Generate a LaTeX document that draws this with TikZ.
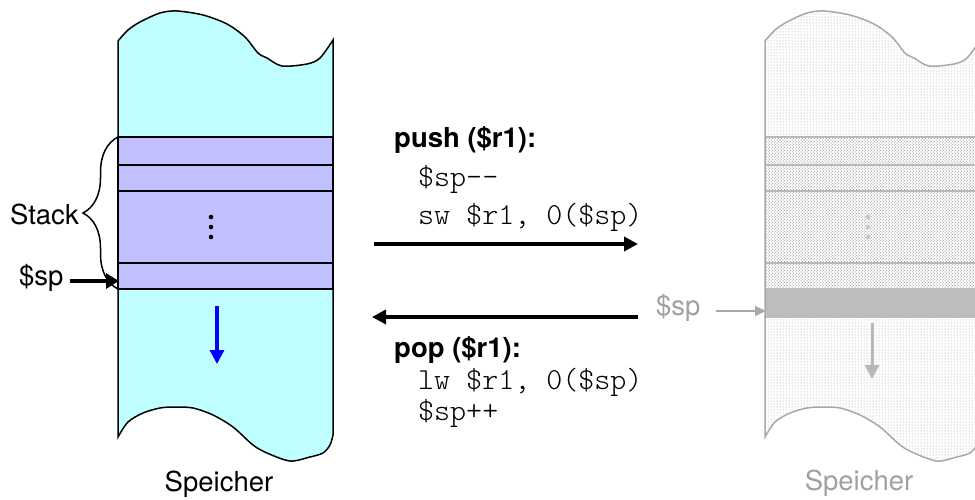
\documentclass[tikz,border=0pt]{standalone}
\usepackage{fontspec}
\setmainfont{TeX Gyre Heros}
\usetikzlibrary{arrows.meta,decorations.pathreplacing,patterns}
\definecolor{memcyan}{HTML}{C0FFFF}
\definecolor{stackblue}{HTML}{C0C0FF}
\definecolor{fadetext}{HTML}{A0A0A0}
\definecolor{fadeline}{HTML}{B8B8B8}
\definecolor{fadeedge}{HTML}{A8A8A8}
\definecolor{fadeband}{HTML}{BDBDBD}

% outline of a memory block with torn top and bottom edges
\def\memshape{plot[smooth,tension=0.5] coordinates {(118,41) (128,30) (140,22) (160,13) (177,11) (203,15) (227,24) (245,37) (258,53) (267,58) (282,66) (307,64) (320,58) (333,40)} -- (333,435) -- plot[smooth,tension=0.5] coordinates {(333,435) (330,445) (323,453) (310,457) (290,461) (267,453) (253,445) (233,427) (213,415) (193,408) (175,407) (160,408) (143,413) (128,422) (118,437)} -- cycle}

\begin{document}
\begin{tikzpicture}[x=1pt,y=-1pt,
  lbl/.style={font=\fontsize{27.5}{32}\selectfont, inner sep=0pt},
  code/.style={font=\fontsize{30.5}{34}\fontseries{l}\ttfamily, inner sep=0pt},
  head/.style={font=\fontsize{27.5}{32}\selectfont\bfseries, inner sep=0pt},
  stackrow/.style={fill=stackblue, draw=black, line width=2.5pt},
  bigarrow/.style={line width=4pt, -{Triangle[length=14pt,width=14pt]}},
  ptr/.style={line width=4pt, -{Triangle[length=13pt,width=15pt]}},
  growarrow/.style={blue, line width=3.2pt, -{Triangle[length=14pt,width=14pt]}},
  fadeptr/.style={fadeedge, line width=2pt, -{Triangle[length=11pt,width=10pt]}},
  fadegrow/.style={fadeline, line width=3pt, -{Triangle[length=14pt,width=14pt]}},
]
\useasboundingbox (0,0) rectangle (975,500);
\clip (0,0) rectangle (975,500);

% ---------- memory before: stack in colour ----------
\draw[line width=1.5pt, fill=memcyan] \memshape;
\foreach \a/\b in {137/165,165/191,191/263,263/289}
  \draw[stackrow] (118,\a) rectangle (333,\b);
\foreach \y in {217,227,237}
  \fill (211,\y) circle (2.3pt);
\coordinate (growL0) at (217,306);
\coordinate (growL1) at (217,364);
\draw[growarrow] (growL0) -- (growL1);

\draw[line width=1.5pt, decorate, decoration={brace, amplitude=35pt}]
  (118,289) -- (118,137);
\node[lbl, anchor=base east] (stackLbl) at (79,224) {Stack};

\node[lbl, anchor=base west] (spL) at (19,285) {\$sp};
\coordinate (spTipL) at (119,281);
\draw[ptr] (spL.east |- spTipL) ++(6,0) -- (spTipL);

\node[lbl, anchor=base] (memL) at (219,491) {Speicher};

% ---------- operations ----------
\node[head, anchor=base west] (pushHead) at (394,148) {push (\$r1):};
\node[code, anchor=base west] (pushA) at (418,186) {\$sp-{}-};
\node[code, anchor=base west] (pushB) at (418,224) {sw \$r1, 0(\$sp)};
\coordinate (pushFrom) at (374,244);
\coordinate (pushTo) at (638,244);
\draw[bigarrow] (pushFrom) -- (pushTo);

\coordinate (popFrom) at (638,317);
\coordinate (popTo) at (372,317);
\draw[bigarrow] (popFrom) -- (popTo);
\node[head, anchor=base west] (popHead) at (394,357) {pop (\$r1):};
\node[code, anchor=base west] (popA) at (418,389) {lw \$r1, 0(\$sp)};
\node[code, anchor=base west] (popB) at (418,420) {\$sp++};

% ---------- memory after: faded ----------
\begin{scope}[shift={(647,0)}]
  \fill[white] \memshape;
  \fill[pattern=dots, pattern color=black!38] \memshape;
  \fill[pattern=crosshatch dots, pattern color=black!38] (118,137) rectangle (333,288);
  \fill[fadeband] (118,288) rectangle (333,318);
  \foreach \y in {137,165,191,263}
    \draw[fadeline, line width=2.8pt] (118,\y) -- (333,\y);
  \draw[fadeedge, line width=1.5pt] \memshape;
  \foreach \y in {217,227,237}
    \fill[black!22] (221,\y) circle (2.3pt);
\end{scope}
\coordinate (growR0) at (872,323);
\coordinate (growR1) at (872,379);
\draw[fadegrow] (growR0) -- (growR1);

\node[lbl, anchor=base west, text=fadetext] (spR) at (656,315) {\$sp};
\coordinate (spTipR) at (766,311);
\draw[fadeptr] (spR.east |- spTipR) ++(15,0) -- (spTipR);

\node[lbl, anchor=base, text=fadetext] (memR) at (859,490) {Speicher};
\end{tikzpicture}
\end{document}
